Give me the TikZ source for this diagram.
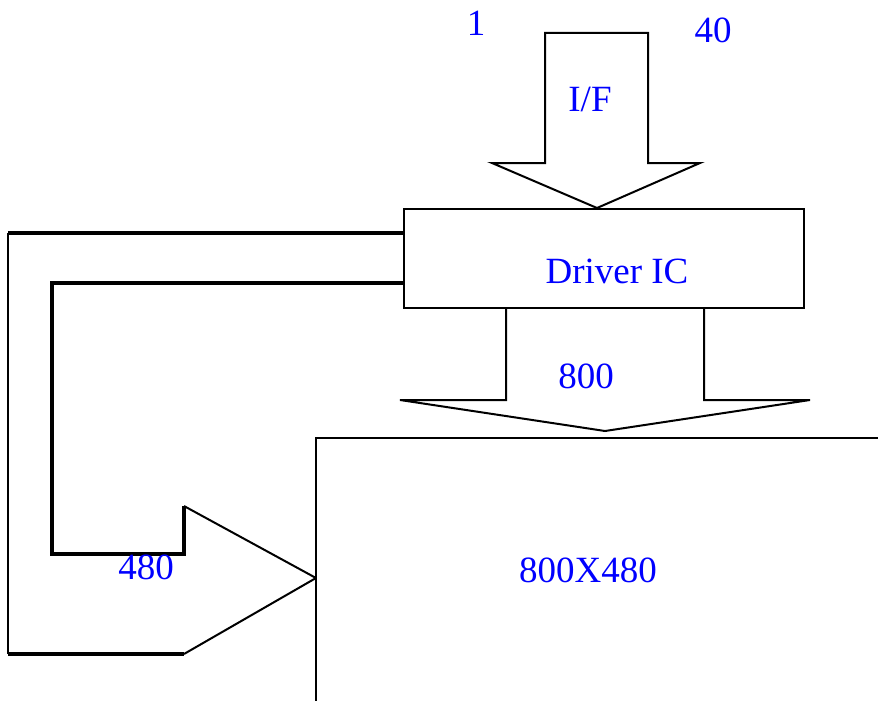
\documentclass[tikz,border=0pt]{standalone}
\usepackage{fontspec}
\setmainfont{Liberation Serif}
\begin{document}
\begin{tikzpicture}[x=1pt,y=-1pt,
  lbl/.style={text=blue,font=\fontsize{37}{40}\selectfont,anchor=base,inner sep=0pt},
  thinline/.style={draw=black,line width=2pt,line join=miter},
  thickline/.style={draw=black,line width=3.2pt,line join=miter}]
\useasboundingbox (0,0) rectangle (878,701);
% I/F arrow
\draw[thinline] (545,163) -- (545,33) -- (648,33) -- (648,163) -- (700,163) -- (597,208) -- (492,163) -- cycle;
% Driver IC box
\node[draw,line width=2pt,minimum width=400pt,minimum height=99pt,anchor=north west,inner sep=0pt] (drv) at (403,208) {};
% 800 arrow
\draw[thinline] (506,307) -- (506,400) -- (400,400) -- (605,431) -- (810,400) -- (704,400) -- (704,307);
% display
\coordinate (dtl) at (316,438);
\draw[thinline] (878,438) -- (dtl) -- (316,701);
% 480 arrow (left)
\coordinate (tip) at (316,578);
\draw[thickline] (403,233) -- (8,233);
\draw[line width=2.2pt] (8,233) -- (8,654);
\draw[thickline] (8,654) -- (184,654);
\draw[thinline] (184,654) -- (tip);
\draw[thickline] (403,283) -- (52,283) -- (52,554) -- (184,554) -- (184,506);
\draw[thinline] (184,506) -- (tip);
% labels
\node[lbl] (l1) at (476,36) {1};
\node[lbl] (l40) at (713,43) {40};
\node[lbl] (lif) at (590,111) {I/F};
\node[lbl] (ldrv) at (617,283) {Driver IC};
\node[lbl] (l800) at (586,388) {800};
\node[lbl] (l480) at (146,579) {480};
\node[lbl] (lres) at (588,582) {800X480};
\end{tikzpicture}
\end{document}
